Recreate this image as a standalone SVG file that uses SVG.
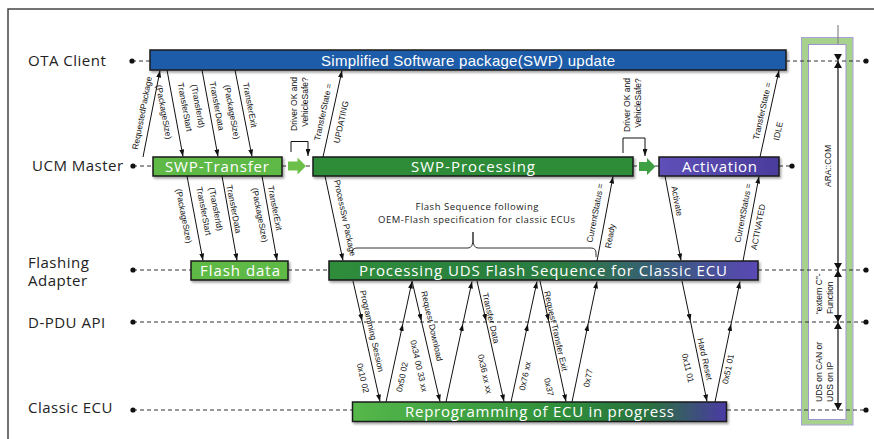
<svg xmlns="http://www.w3.org/2000/svg" width="874" height="439" viewBox="0 0 874 439">
<style>
.ll{stroke:#333;stroke-width:1.2;stroke-dasharray:4 3;fill:none}
.dot{fill:#111}
.msg{stroke:#111;stroke-width:1;fill:none;marker-end:url(#ah)}
.msg2{stroke:#111;stroke-width:1;fill:none;marker-mid:url(#ah);marker-end:url(#ah)}
.lbl{font-family:"Liberation Sans",Arial,sans-serif;font-size:8.5px;fill:#111;text-anchor:middle}
.lbs{font-family:"Liberation Sans",Arial,sans-serif;font-size:8.5px;fill:#111}
.actor{font-family:"Open Sans",sans-serif;font-size:15px;fill:#222;letter-spacing:0.5px}
.btxt{font-family:"Open Sans",sans-serif;font-size:15px;fill:#fff;text-anchor:middle}
.box{stroke:#1a1a1a;stroke-width:1.5;filter:url(#sh)}
.note{font-family:"Open Sans",sans-serif;font-size:9.5px;fill:#222;text-anchor:middle}
</style>
<defs>
<marker id="ah" viewBox="0 0 10 7" refX="10" refY="3.5" markerWidth="7" markerHeight="5" orient="auto" markerUnits="userSpaceOnUse"><path d="M0,0 L10,3.5 L0,7 z" fill="#111"/></marker>
<filter id="sh" x="-5%" y="-30%" width="110%" height="170%"><feDropShadow dx="1.5" dy="2" stdDeviation="1" flood-color="#000" flood-opacity="0.35"/></filter>
<linearGradient id="gUDS" x1="0" x2="1" y1="0" y2="0"><stop offset="0" stop-color="#2e8d3a"/><stop offset="0.55" stop-color="#2a7a40"/><stop offset="0.8" stop-color="#3c5a82"/><stop offset="1" stop-color="#5a48b5"/></linearGradient>
<linearGradient id="gECU" x1="0" x2="1" y1="0" y2="0"><stop offset="0" stop-color="#55b84a"/><stop offset="0.55" stop-color="#2f8f3a"/><stop offset="0.8" stop-color="#2a7040"/><stop offset="1" stop-color="#4b3aa5"/></linearGradient>
<linearGradient id="gAct" x1="0" x2="1" y1="0" y2="0"><stop offset="0" stop-color="#5e50b8"/><stop offset="1" stop-color="#4a3c9c"/></linearGradient>
</defs>
<rect width="874" height="439" fill="#fff"/>
<path d="M8,439 V9 H874" fill="none" stroke="#444" stroke-width="1.5"/>

<!-- interface panel -->
<g id="panel">
<rect x="801.5" y="37.5" width="51.5" height="387.5" fill="#a9d18e" stroke="#a9a0d8" stroke-width="1"/>
<rect x="808.5" y="44.5" width="37.5" height="375" fill="#fff" stroke="#9d93d4" stroke-width="1"/>
<line x1="838" y1="25" x2="838" y2="44" stroke="#888" stroke-width="1.2"/>
</g>

<!-- actor labels and lifelines -->
<g id="actors">
<text class="actor" x="28" y="66">OTA Client</text>
<text class="actor" x="32" y="171">UCM Master</text>
<text class="actor" x="28" y="268">Flashing</text>
<text class="actor" x="28" y="286">Adapter</text>
<text class="actor" x="28" y="328">D-PDU API</text>
<text class="actor" x="28" y="413">Classic ECU</text>
</g>
<g id="lifelines">
<path class="ll" d="M132,61 H150 M786,61 H866"/>
<path class="ll" d="M133,166 H153 M282,166 H288 M306,166 H313 M633,166 H639 M655,166 H659 M779,166 H792"/>
<path class="ll" d="M133,270 H191 M288,270 H329 M758,270 H866"/>
<path class="ll" d="M133,322 H866"/>
<path class="ll" d="M133,410 H352 M727,410 H866"/>
<circle class="dot" cx="132" cy="61" r="2.6"/><circle class="dot" cx="866" cy="61" r="2.6"/>
<circle class="dot" cx="133" cy="166" r="2.6"/><circle class="dot" cx="792" cy="166" r="2.6"/>
<circle class="dot" cx="133" cy="270" r="2.6"/><circle class="dot" cx="866" cy="270" r="2.6"/>
<circle class="dot" cx="133" cy="322" r="2.6"/><circle class="dot" cx="866" cy="322" r="2.6"/>
<circle class="dot" cx="133" cy="410" r="2.6"/><circle class="dot" cx="866" cy="410" r="2.6"/>
</g>

<!-- nodes -->
<g id="ota-bar"><rect class="box" x="150" y="50" width="636" height="20" fill="#1d5ba8"/>
<text x="468" y="65.5" font-family="Liberation Sans, Arial, sans-serif" font-size="15" fill="#fff" text-anchor="middle" textLength="294" lengthAdjust="spacing">Simplified Software package(SWP) update</text></g>
<g id="swp-transfer"><rect class="box" x="153" y="157" width="129" height="19" fill="#5fb946"/>
<text class="btxt" x="217" y="171.5" textLength="104" lengthAdjust="spacing">SWP-Transfer</text></g>
<g id="swp-processing"><rect class="box" x="313" y="157" width="320" height="19" fill="#2d8c37"/>
<text class="btxt" x="473" y="171.5" textLength="124" lengthAdjust="spacing">SWP-Processing</text></g>
<g id="activation"><rect class="box" x="659" y="157" width="120" height="19" fill="url(#gAct)"/>
<text class="btxt" x="719.5" y="171.5" textLength="75" lengthAdjust="spacing">Activation</text></g>
<g id="flash-data"><rect class="box" x="191" y="261" width="97" height="19" fill="#5fb946"/>
<text class="btxt" x="240" y="276" textLength="80" lengthAdjust="spacing">Flash data</text></g>
<g id="processing-uds"><rect class="box" x="329" y="261" width="429" height="19" fill="url(#gUDS)"/>
<text class="btxt" x="543" y="276" textLength="368" lengthAdjust="spacing">Processing UDS Flash Sequence for Classic ECU</text></g>
<g id="reprogramming"><rect class="box" x="352.5" y="402" width="374" height="19.5" fill="url(#gECU)"/>
<text class="btxt" x="539.5" y="416.5" textLength="269" lengthAdjust="spacing">Reprogramming of ECU in progress</text></g>

<g id="step-arrows">
<path d="M288,161.5 H297.5 V157.5 L306,166 L297.5,174.5 V170.5 H288 Z" fill="#6cc04a"/>
<path d="M639,162 H647 V158 L655.5,166.5 L647,175 V171 H639 Z" fill="#3ea043"/>
</g>

<g id="note">
<text class="note" x="477" y="210" textLength="123" lengthAdjust="spacing">Flash Sequence following</text>
<text class="note" x="476.5" y="222.5" textLength="197" lengthAdjust="spacing">OEM-Flash specification for classic ECUs</text>
<path d="M352,253 Q352,248 357,248 H468 Q473,248 473,239 V232 V239 Q473,248 478,248 H591 Q596,248 596,253 V257" fill="none" stroke="#333" stroke-width="1"/>
</g>

<!-- connectors -->
<g id="connectors">
<path class="msg" d="M143,157 L160,70.5"/>
<path class="msg" d="M167,70 L183,156.5"/>
<path class="msg" d="M202,70 L218,156.5"/>
<path class="msg" d="M235,70 L252,156.5"/>
<path class="msg" d="M323,157 L342,70.5"/>
<path class="msg" d="M760,157 L779,70.5"/>
<path class="msg" d="M291,152 V141.5 H308 V156"/>
<path class="msg" d="M623,153 V138 H645 V156"/>
<path class="msg" d="M187,176 L203,260.5"/>
<path class="msg" d="M222,176 L237,260.5"/>
<path class="msg" d="M262,176 L277,260.5"/>
<path class="msg" d="M325,176 L343,260.5"/>
<path class="msg" d="M597,261 L613,176.5"/>
<path class="msg" d="M665,176 L681,260.5"/>
<path class="msg" d="M743,261 L759,176.5"/>
<path class="msg2" d="M353,281 L362.1,321 L380,401.5"/>
<path class="msg2" d="M386,402 L402.8,324 L412,281.5"/>
<path class="msg2" d="M412,281 L421.4,321 L440,401.5"/>
<path class="msg2" d="M446,402 L462.8,324 L472,281.5"/>
<path class="msg2" d="M477,281 L486.1,321 L504,401.5"/>
<path class="msg2" d="M511,402 L527.8,324 L537,281.5"/>
<path class="msg2" d="M540,281 L548.7,321 L566,401.5"/>
<path class="msg2" d="M572,402 L588.1,324 L597,281.5"/>
<path class="msg2" d="M682,281 L690.4,321 L707,401.5"/>
<path class="msg2" d="M715,402 L731.1,324 L740,281.5"/>
<line x1="838" y1="61" x2="838" y2="410" stroke="#111" stroke-width="1.2"/>
<path d="M834,54 H842 L838,61 Z M834,68 H842 L838,61 Z M834,263 H842 L838,270 Z M834,277 H842 L838,270 Z M834,315 H842 L838,322 Z M834,329 H842 L838,322 Z M834,403 H842 L838,410 Z" fill="#111"/>
</g>

<!-- connector labels -->
<g id="labels">
<text class="lbl" transform="translate(142,113) rotate(-79)" y="3">RequestedPackage</text>
<text class="lbl" transform="translate(185,107) rotate(79.3)" y="3">TransferStart</text>
<text class="lbl" transform="translate(164,112) rotate(79.3)" y="3">(PackageSize)</text>
<text class="lbl" transform="translate(198,106) rotate(79.3)" y="3">(TransferId)</text>
<text class="lbl" transform="translate(217,106) rotate(79.3)" y="3">TransferData</text>
<text class="lbl" transform="translate(232,112) rotate(79.3)" y="3">(PackageSize)</text>
<text class="lbl" transform="translate(250,105) rotate(79.3)" y="3">TransferExit</text>
<text class="lbl" transform="translate(293.5,104) rotate(-90)" y="3">Driver OK and</text>
<text class="lbl" transform="translate(304.5,102) rotate(-90)" y="3">VehicleSafe?</text>
<text class="lbl" transform="translate(323,112) rotate(-77.7)" y="3">TransferState =</text>
<text class="lbl" transform="translate(341,122) rotate(-77.7)" y="3">UPDATING</text>
<text class="lbl" transform="translate(627,105) rotate(-90)" y="3">Driver OK and</text>
<text class="lbl" transform="translate(638,103) rotate(-90)" y="3">VehicleSafe?</text>
<text class="lbl" transform="translate(762,111) rotate(-77.5)" y="3">TransferState =</text>
<text class="lbl" transform="translate(778,131) rotate(-77.5)" y="3">IDLE</text>

<text class="lbl" transform="translate(184,216) rotate(79)" y="3">(PackageSize)</text>
<text class="lbl" transform="translate(204,211) rotate(79)" y="3">TransferStart</text>
<text class="lbl" transform="translate(216,209) rotate(79)" y="3">(TransferId)</text>
<text class="lbl" transform="translate(234,209) rotate(79)" y="3">TransferData</text>
<text class="lbl" transform="translate(260,215) rotate(79)" y="3">(PackageSize)</text>
<text class="lbl" transform="translate(275,208) rotate(79)" y="3">TransferExit</text>
<text class="lbl" transform="translate(345,218) rotate(77.9)" y="3">ProcessSw Package</text>
<text class="lbl" transform="translate(595,213) rotate(-79.2)" y="3">CurrentStatus =</text>
<text class="lbl" transform="translate(610,236) rotate(-79.2)" y="3">Ready</text>
<text class="lbl" transform="translate(677,201) rotate(79.2)" y="3">Activate</text>
<text class="lbl" transform="translate(743,213) rotate(-79.2)" y="3">CurrentStatus =</text>
<text class="lbl" transform="translate(758,227) rotate(-79.2)" y="3">ACTIVATED</text>

<text class="lbl" transform="translate(372,331) rotate(77.2)" y="3">Programming Session</text>
<text class="lbl" transform="translate(363,378) rotate(77.2)" y="3">0x10 02</text>
<text class="lbl" transform="translate(402,377) rotate(-77.9)" y="3">0x50 02</text>
<text class="lbl" transform="translate(432,326) rotate(77.2)" y="3">Request Download</text>
<text class="lbl" transform="translate(419,366) rotate(77.2)" y="3">0x34 00 33 xx</text>
<text class="lbl" transform="translate(491,318) rotate(77.2)" y="3">Transfer Data</text>
<text class="lbl" transform="translate(485,374) rotate(77.2)" y="3">0x36 xx xx</text>
<text class="lbl" transform="translate(525,376) rotate(-77.9)" y="3">0x76 xx</text>
<text class="lbl" transform="translate(556,331) rotate(77.2)" y="3">Request Transfer Exit</text>
<text class="lbl" transform="translate(549,387) rotate(77.2)" y="3">0x37</text>
<text class="lbl" transform="translate(588,378) rotate(-77.9)" y="3">0x77</text>
<text class="lbl" transform="translate(705,359) rotate(77.2)" y="3">Hard Reset</text>
<text class="lbl" transform="translate(688,368) rotate(77.2)" y="3">0x11 01</text>
<text class="lbl" transform="translate(728,369) rotate(-77.9)" y="3">0x51 01</text>

<text class="lbl" transform="translate(830.5,166) rotate(-90)">ARA::COM</text>
<text class="lbs" transform="translate(822,314) rotate(-90)">“extern C”-</text>
<text class="lbs" transform="translate(833,314) rotate(-90)">Function</text>
<text class="lbs" transform="translate(822,402) rotate(-90)">UDS on CAN or</text>
<text class="lbs" transform="translate(833,402) rotate(-90)">UDS on IP</text>
</g>
</svg>
